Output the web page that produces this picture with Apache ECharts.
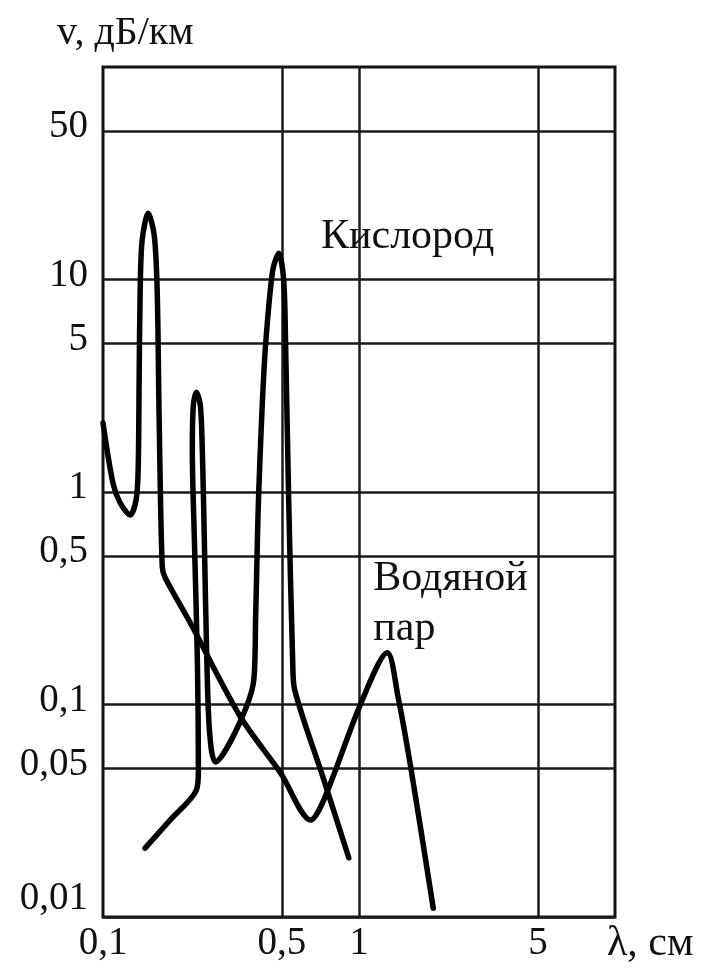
<!DOCTYPE html>
<html>
<head>
<meta charset="utf-8">
<script src="https://cdn.jsdelivr.net/npm/echarts@6/dist/echarts.min.js"></script>
<style>
  html, body { margin: 0; padding: 0; background: #fff; }
  #chart { width: 703px; height: 968px; }
</style>
</head>
<body>
<div id="chart"></div>
<script>
// Wavelength λ, cm  (x) and attenuation v, dB/km (y)
const vaporLambda = [0.1, 0.1094, 0.1166, 0.1276, 0.1347, 0.1372, 0.1384, 0.1397, 0.1422, 0.1501, 0.1585, 0.1628, 0.1658, 0.1704, 0.1751, 0.2194, 0.3446, 0.494, 0.648, 0.729, 1.02, 1.29, 1.42, 1.60, 1.95];
const vaporValues = [2.11, 1.10, 0.89, 0.78, 0.92, 1.27, 3.37, 8.9, 15.3, 20.5, 16.2, 8.9, 2.11, 0.444, 0.394, 0.242, 0.0873, 0.0476, 0.0286, 0.0356, 0.102, 0.175, 0.109, 0.049, 0.0110];

const oxygenLambda = [0.146, 0.183, 0.2317, 0.2359, 0.2337, 0.2275, 0.2233, 0.2254, 0.2317, 0.240, 0.2443, 0.2488, 0.2534, 0.2605, 0.275, 0.336, 0.388, 0.3945, 0.401, 0.4052, 0.4163, 0.431, 0.460, 0.486, 0.508, 0.517, 0.531, 0.551, 0.561, 0.729, 0.912];
const oxygenValues = [0.0211, 0.0286, 0.0396, 0.049, 0.162, 0.595, 1.58, 2.56, 2.95, 2.56, 1.58, 0.595, 0.201, 0.0757, 0.0537, 0.0784, 0.130, 0.250, 0.595, 0.947, 2.18, 4.81, 11.0, 13.3, 9.9, 4.81, 0.947, 0.157, 0.117, 0.0442, 0.0190];

const xTickValues = [0.1, 0.5, 1, 5];
const xGridValues = [0.5, 1, 5];
const yTickValues = [0.01, 0.05, 0.1, 0.5, 1, 5, 10, 50];

const seriesNames = ['Водяной пар', 'Кислород'];
const xAxisName = 'λ, см';
const yAxisName = 'v, дБ/км';

const zip = (xs, ys) => xs.map((x, i) => [x, ys[i]]);
const fmt = v => String(v).replace('.', ',');
const FONT = 'Liberation Serif';
const FS = 39;

const chart = echarts.init(document.getElementById('chart'), null, { renderer: 'canvas' });

chart.setOption({
  backgroundColor: '#ffffff',
  animation: false,
  title: {
    text: yAxisName,
    left: 52,
    top: 8,
    textStyle: { fontFamily: FONT, fontSize: 40, fontWeight: 'normal', color: '#111' }
  },
  grid: {
    left: 103, right: 88, top: 67, bottom: 51,
    outerBoundsMode: 'none',
    containLabel: false,
    show: true, borderColor: '#111', borderWidth: 3, backgroundColor: 'transparent'
  },
  xAxis: {
    type: 'log', logBase: 10, min: 0.1, max: 10,
    name: xAxisName,
    nameLocation: 'end',
    nameGap: -8,
    nameTextStyle: { fontFamily: FONT, fontSize: 42, color: '#111', verticalAlign: 'top', align: 'left', padding: [6, 0, 0, 0] },
    axisLine: { show: false },
    axisTick: { show: false, customValues: xGridValues },
    axisLabel: {
      customValues: xTickValues,
      formatter: fmt,
      margin: 7,
      fontFamily: FONT, fontSize: FS, color: '#111'
    },
    splitLine: { show: true, lineStyle: { color: '#1a1a1a', width: 2.5 } },
    minorSplitLine: { show: false }
  },
  yAxis: {
    type: 'log', logBase: 10, min: 0.01, max: 100,
    axisLine: { show: false },
    axisTick: { show: false, customValues: yTickValues },
    axisLabel: {
      customValues: yTickValues,
      margin: 15,
      fontFamily: FONT, fontSize: FS, color: '#111',
      formatter: v => (v === 0.01 ? '{low|' + fmt(v) + '}' : '{n|' + fmt(v) + '}'),
      rich: {
        n: { fontFamily: FONT, fontSize: FS, color: '#111', padding: [0, 0, 8, 0] },
        low: { fontFamily: FONT, fontSize: FS, color: '#111', padding: [0, 0, 36, 0] }
      }
    },
    splitLine: { show: true, lineStyle: { color: '#1a1a1a', width: 2.5 } },
    minorSplitLine: { show: false }
  },
  series: [
    {
      name: seriesNames[0],
      type: 'line',
      data: zip(vaporLambda, vaporValues),
      showSymbol: false,
      smooth: 0.3,
      lineStyle: { color: '#000', width: 5.5, cap: 'round', join: 'round' },
      markPoint: {
        symbol: 'circle', symbolSize: 0,
        data: [{ coord: [1.137, 0.297], value: seriesNames[0] }],
        label: {
          show: true, position: 'right', distance: 0,
          formatter: 'Водяной\nпар',
          fontFamily: FONT, fontSize: 42, lineHeight: 50, color: '#111', align: 'left'
        }
      }
    },
    {
      name: seriesNames[1],
      type: 'line',
      data: zip(oxygenLambda, oxygenValues),
      showSymbol: false,
      smooth: 0.3,
      lineStyle: { color: '#000', width: 5.5, cap: 'round', join: 'round' },
      markPoint: {
        symbol: 'circle', symbolSize: 0,
        data: [{ coord: [0.7106, 15.85], value: seriesNames[1] }],
        label: {
          show: true, position: 'right', distance: 0,
          formatter: seriesNames[1],
          fontFamily: FONT, fontSize: 42, color: '#111', align: 'left'
        }
      }
    }
  ]
});
</script>
</body>
</html>
